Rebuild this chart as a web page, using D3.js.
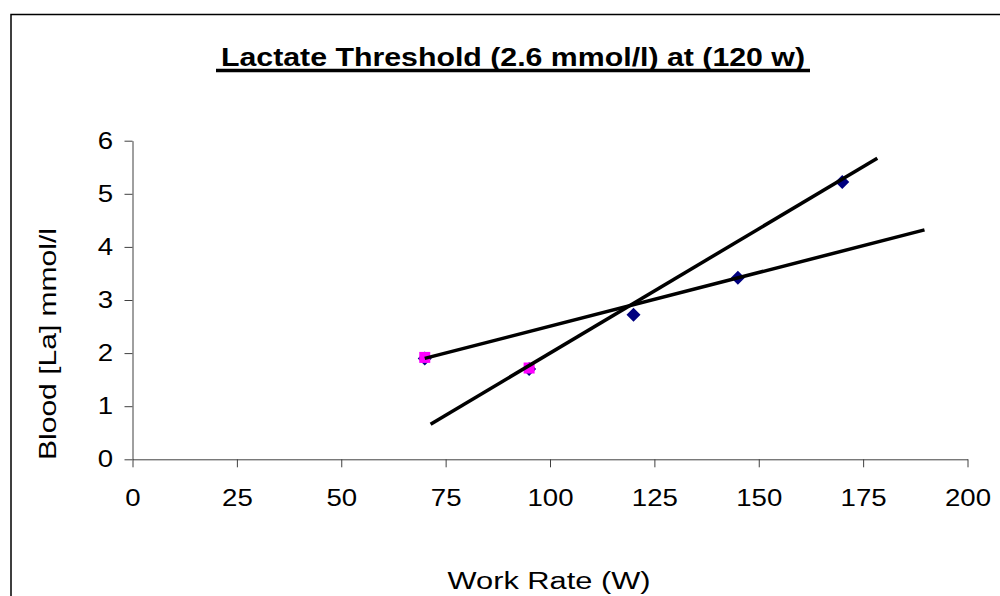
<!DOCTYPE html>
<html>
<head>
<meta charset="utf-8">
<script src="https://cdn.jsdelivr.net/npm/d3@7/dist/d3.min.js"></script>
<style>
  body { margin: 0; background: #fff; }
  text { font-family: Arial, "Liberation Sans", sans-serif; }
</style>
</head>
<body>
<div id="chart"></div>
<script>
// chart data
var workRate = [70, 95, 120, 145, 170];
var lactate = [1.9, 1.7, 2.72, 3.42, 5.22];
var pinkRate = [70, 95];
var pinkLactate = [1.9, 1.7];
// trend lines: [x0, y0, x1, y1]
var steepTrend = [71.4, 0.66, 178.4, 5.67];
var flatTrend = [70, 1.9, 189.7, 4.32];
var xTicks = [0, 25, 50, 75, 100, 125, 150, 175, 200];
var yTicks = [0, 1, 2, 3, 4, 5, 6];

var svgWidth = 1000;
var svgHeight = 596;

var margin = { top: 140.7, left: 132.5, right: 32.5, bottom: 136.7 };
var width = svgWidth - margin.left - margin.right;
var height = svgHeight - margin.top - margin.bottom;

// text in the original is drawn wider than plain Arial
var stretch = 1.15;

var svg = d3.select("#chart")
  .append("svg")
  .attr("width", svgWidth)
  .attr("height", svgHeight);

// outer frame (runs off the right and bottom edges)
svg.append("path")
  .attr("d", "M11,600 L11,14.5 L1005,14.5")
  .attr("fill", "none")
  .attr("stroke", "#000")
  .attr("stroke-width", 1.5);

var chartGroup = svg.append("g")
  .attr("transform", `translate(${margin.left}, ${margin.top})`);

var x = d3.scaleLinear().domain([0, 200]).range([0, width]);
var y = d3.scaleLinear().domain([0, 6]).range([height, 0]);

var bottomAxis = d3.axisBottom(x).tickValues(xTicks).tickFormat(d3.format("d"))
  .tickSize(8).tickPadding(22).tickSizeOuter(0);
var leftAxis = d3.axisLeft(y).tickValues(yTicks).tickFormat(d3.format("d"))
  .tickSize(8).tickPadding(11.5).tickSizeOuter(0);

var xg = chartGroup.append("g")
  .attr("transform", `translate(0, ${height})`)
  .call(bottomAxis);

var yg = chartGroup.append("g")
  .call(leftAxis);

[xg, yg].forEach(function(g) {
  g.selectAll("path, line").attr("stroke", "#404040").attr("stroke-width", 1);
  g.selectAll("text")
    .attr("fill", "#000")
    .style("font-size", "24px")
    .style("font-family", "Arial, 'Liberation Sans', sans-serif")
    .each(function() {
      var len = this.getComputedTextLength();
      d3.select(this)
        .attr("textLength", len * stretch)
        .attr("lengthAdjust", "spacingAndGlyphs");
    });
});

// blue diamonds
chartGroup.selectAll(".diamond")
  .data(workRate)
  .enter()
  .append("path")
  .attr("class", "diamond")
  .attr("d", d3.symbol().type(d3.symbolDiamond2).size(125))
  .attr("transform", (d, i) => `translate(${x(d)}, ${y(lactate[i])})`)
  .attr("fill", "#000080");

// pink squares
chartGroup.selectAll(".square")
  .data(pinkRate)
  .enter()
  .append("rect")
  .attr("class", "square")
  .attr("x", d => x(d) - 5.5)
  .attr("y", (d, i) => y(pinkLactate[i]) - 6.5)
  .attr("width", 11)
  .attr("height", 11)
  .attr("fill", "#ff00ff");

// trend lines
[steepTrend, flatTrend].forEach(function(t) {
  chartGroup.append("line")
    .attr("x1", x(t[0]))
    .attr("y1", y(t[1]))
    .attr("x2", x(t[2]))
    .attr("y2", y(t[3]))
    .attr("stroke", "#000")
    .attr("stroke-width", 3.5);
});

// title
svg.append("text")
  .attr("x", 513)
  .attr("y", 66)
  .attr("text-anchor", "middle")
  .attr("textLength", 584)
  .attr("lengthAdjust", "spacingAndGlyphs")
  .style("font-size", "26px")
  .style("font-weight", "bold")
  .text("Lactate Threshold (2.6 mmol/l) at (120 w)");

svg.append("line")
  .attr("x1", 216)
  .attr("x2", 810)
  .attr("y1", 70.5)
  .attr("y2", 70.5)
  .attr("stroke", "#000")
  .attr("stroke-width", 3.5);

// axis labels
svg.append("text")
  .attr("x", 549)
  .attr("y", 589)
  .attr("text-anchor", "middle")
  .attr("textLength", 203)
  .attr("lengthAdjust", "spacingAndGlyphs")
  .style("font-size", "23px")
  .text("Work Rate (W)");

svg.append("text")
  .attr("transform", "translate(56, 344) rotate(-90)")
  .attr("text-anchor", "middle")
  .attr("textLength", 232)
  .attr("lengthAdjust", "spacingAndGlyphs")
  .style("font-size", "24px")
  .text("Blood [La] mmol/l");
</script>
</body>
</html>
